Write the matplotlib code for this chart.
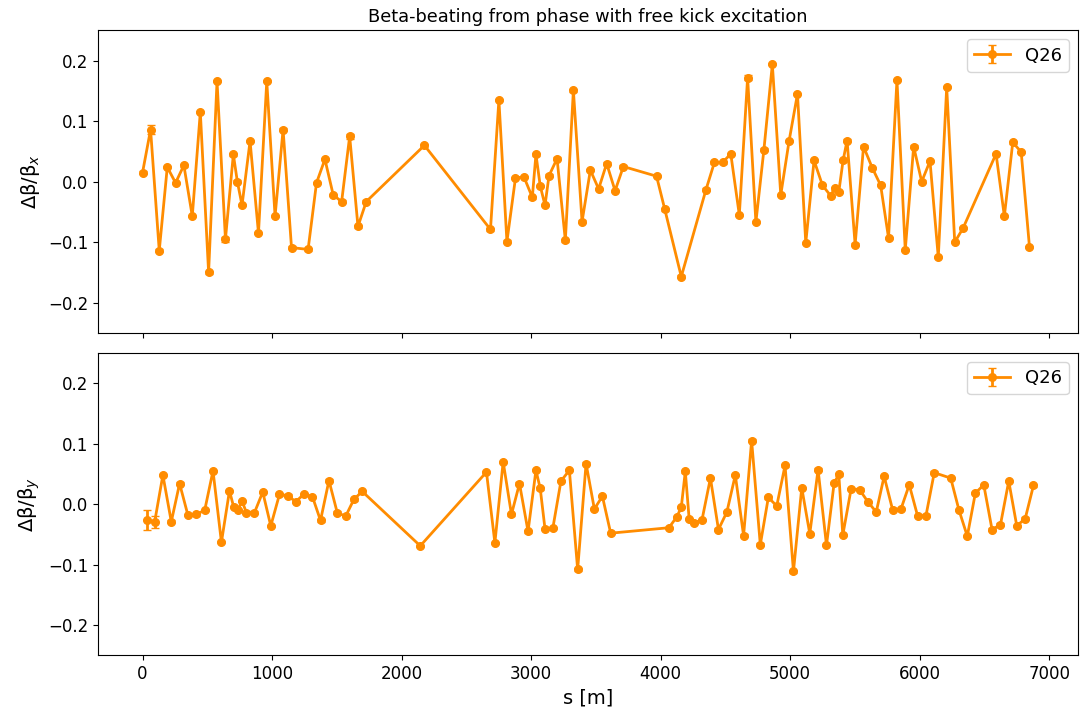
import matplotlib
matplotlib.use("Agg")
import matplotlib.pyplot as plt

# horizontal plane: BPM positions [m], beta-beating, error
s_x = [0, 62, 129, 191, 255, 319, 384, 446, 510, 575,
       640, 701, 732, 768, 830, 895, 959, 1023, 1085, 1150,
       1278, 1343, 1408, 1472, 1537, 1599, 1663, 1727, 2176, 2686,
       2751, 2813, 2879, 2944, 3009, 3037, 3070, 3107, 3138, 3200,
       3264, 3326, 3393, 3457, 3521, 3583, 3648, 3712, 3968, 4032,
       4159, 4350, 4415, 4479, 4541, 4607, 4671, 4735, 4797, 4862,
       4927, 4991, 5056, 5120, 5184, 5249, 5311, 5344, 5375, 5408,
       5439, 5501, 5566, 5633, 5698, 5759, 5824, 5888, 5953, 6015,
       6079, 6143, 6208, 6270, 6334, 6589, 6653, 6718, 6783, 6847]
dbx = [0.015, 0.086, -0.114, 0.024, -0.002, 0.027, -0.057, 0.115, -0.150, 0.166,
       -0.095, 0.045, 0.000, -0.039, 0.067, -0.085, 0.166, -0.057, 0.086, -0.109,
       -0.112, -0.002, 0.037, -0.022, -0.033, 0.075, -0.074, -0.033, 0.060, -0.079,
       0.135, -0.099, 0.006, 0.008, -0.026, 0.045, -0.007, -0.039, 0.010, 0.038,
       -0.097, 0.151, -0.066, 0.019, -0.012, 0.030, -0.015, 0.025, 0.009, -0.046,
       -0.157, -0.013, 0.032, 0.032, 0.046, -0.055, 0.172, -0.067, 0.053, 0.194,
       -0.022, 0.067, 0.145, -0.101, 0.035, -0.006, -0.023, -0.011, -0.017, 0.035,
       0.068, -0.104, 0.058, 0.023, -0.006, -0.093, 0.168, -0.113, 0.058, 0.000,
       0.034, -0.125, 0.156, -0.100, -0.077, 0.046, -0.057, 0.065, 0.049, -0.108]
err_x = [0.002, 0.007, 0.002, 0.002, 0.002, 0.002, 0.002, 0.002, 0.002, 0.002,
         0.004, 0.002, 0.002, 0.002, 0.002, 0.002, 0.002, 0.002, 0.002, 0.002,
         0.002, 0.002, 0.002, 0.002, 0.002, 0.004, 0.002, 0.002, 0.002, 0.002,
         0.002, 0.002, 0.002, 0.002, 0.002, 0.002, 0.002, 0.002, 0.002, 0.002,
         0.002, 0.002, 0.002, 0.002, 0.002, 0.002, 0.002, 0.002, 0.002, 0.002,
         0.002, 0.002, 0.002, 0.002, 0.002, 0.002, 0.004, 0.002, 0.002, 0.002,
         0.002, 0.002, 0.002, 0.002, 0.002, 0.002, 0.002, 0.002, 0.002, 0.002,
         0.002, 0.002, 0.002, 0.002, 0.002, 0.002, 0.002, 0.002, 0.003, 0.002,
         0.002, 0.002, 0.002, 0.002, 0.002, 0.002, 0.002, 0.002, 0.002, 0.002]

# vertical plane
s_y = [31, 93, 157, 222, 286, 350, 415, 480, 544, 609,
       671, 704, 735, 768, 802, 864, 928, 990, 1057, 1121,
       1183, 1248, 1312, 1374, 1439, 1503, 1568, 1632, 1696, 2144,
       2655, 2720, 2784, 2848, 2910, 2976, 3037, 3070, 3107, 3168,
       3230, 3295, 3359, 3424, 3488, 3550, 3614, 4063, 4125, 4159,
       4190, 4220, 4256, 4319, 4384, 4446, 4511, 4576, 4640, 4702,
       4769, 4831, 4896, 4960, 5025, 5089, 5151, 5215, 5280, 5339,
       5375, 5406, 5470, 5535, 5599, 5664, 5725, 5790, 5855, 5919,
       5984, 6048, 6112, 6239, 6303, 6367, 6429, 6494, 6558, 6623,
       6687, 6749, 6814, 6878]
dby = [-0.026, -0.030, 0.048, -0.029, 0.034, -0.018, -0.017, -0.010, 0.055, -0.063,
       0.022, -0.005, -0.010, 0.005, -0.014, -0.014, 0.020, -0.036, 0.016, 0.014,
       0.004, 0.017, 0.012, -0.027, 0.039, -0.014, -0.020, 0.008, 0.021, -0.069,
       0.053, -0.064, 0.070, -0.017, 0.034, -0.045, 0.056, 0.026, -0.041, -0.039,
       0.038, 0.056, -0.108, 0.067, -0.008, 0.013, -0.048, -0.039, -0.021, -0.005,
       0.054, -0.025, -0.031, -0.026, 0.043, -0.042, -0.013, 0.048, -0.052, 0.105,
       -0.067, 0.011, -0.003, 0.064, -0.111, 0.027, -0.049, 0.057, -0.068, 0.035,
       0.049, -0.051, 0.025, 0.024, 0.004, -0.013, 0.046, -0.009, -0.008, 0.032,
       -0.020, -0.019, 0.052, 0.043, -0.010, -0.053, 0.018, 0.032, -0.042, -0.034,
       0.038, -0.036, -0.024, 0.031]
err_y = [0.016, 0.010, 0.002, 0.002, 0.002, 0.002, 0.002, 0.002, 0.002, 0.002,
         0.002, 0.002, 0.002, 0.002, 0.002, 0.002, 0.002, 0.002, 0.002, 0.002,
         0.002, 0.002, 0.002, 0.002, 0.002, 0.002, 0.002, 0.002, 0.002, 0.002,
         0.002, 0.002, 0.002, 0.002, 0.002, 0.002, 0.002, 0.002, 0.002, 0.002,
         0.002, 0.002, 0.002, 0.002, 0.002, 0.002, 0.002, 0.002, 0.002, 0.002,
         0.002, 0.002, 0.002, 0.002, 0.002, 0.002, 0.002, 0.002, 0.002, 0.002,
         0.002, 0.002, 0.002, 0.002, 0.002, 0.002, 0.002, 0.002, 0.002, 0.002,
         0.002, 0.002, 0.002, 0.002, 0.002, 0.002, 0.002, 0.002, 0.002, 0.002,
         0.002, 0.002, 0.002, 0.002, 0.002, 0.002, 0.002, 0.002, 0.002, 0.002,
         0.002, 0.002, 0.002, 0.002]

label = "Q26"
color = "darkorange"

fig, (ax1, ax2) = plt.subplots(2, 1, sharex=True, figsize=(10.84, 7.07), dpi=100)
fig.subplots_adjust(left=0.0904, right=0.9945, top=0.957, bottom=0.073, hspace=0.066)

for ax, s, d, e, ylab in [(ax1, s_x, dbx, err_x, "Δβ/β$_x$"),
                          (ax2, s_y, dby, err_y, "Δβ/β$_y$")]:
    ax.errorbar(s, d, yerr=e, fmt="o-", color=color, markersize=5.5,
                linewidth=2, capsize=3, label=label)
    ax.set_ylim(-0.25, 0.25)
    ax.set_yticks([-0.2, -0.1, 0.0, 0.1, 0.2])
    ax.set_ylabel(ylab, fontsize=14)
    ax.tick_params(labelsize=12)
    ax.legend(loc="upper right", fontsize=13)

ax1.set_title("Beta-beating from phase with free kick excitation", fontsize=12.8)
ax2.set_xlabel("s [m]", fontsize=14)

fig.savefig("out.png", dpi=100)
